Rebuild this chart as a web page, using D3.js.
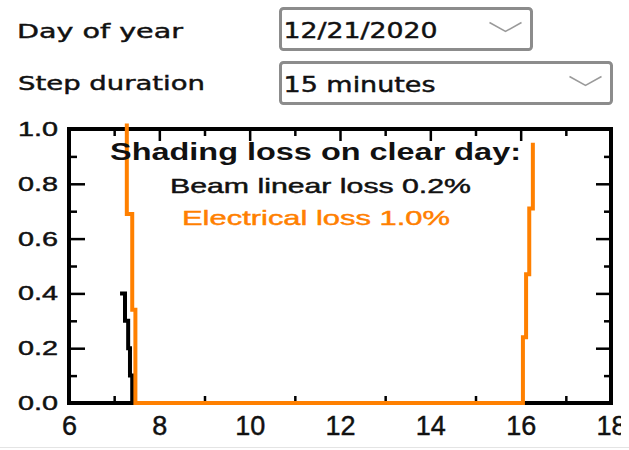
<!DOCTYPE html>
<html>
<head>
<meta charset="utf-8">
<script src="https://cdnjs.cloudflare.com/ajax/libs/d3/7.8.5/d3.min.js"></script>
<style>
  body { margin: 0; background: #fff; }
  svg { display: block; }
</style>
</head>
<body>
<svg id="chart" width="629" height="450"></svg>
<script>
// --- data ---
const beamHours = [7.13, 7.24, 7.31, 7.35, 7.40, 16.30];
const beamLoss  = [0.40, 0.30, 0.20, 0.10, 0.00, 0.00];

const elecHours = [7.28, 7.28, 7.40, 7.47, 16.05, 16.12, 16.19, 16.27];
const elecLoss  = [1.02, 0.69, 0.34, 0.00, 0.24, 0.47, 0.71, 0.95];

const xMajor = [6, 8, 10, 12, 14, 16, 18];
const xMinor = [7, 9, 11, 13, 15, 17];
const yMajor = [0, 0.2, 0.4, 0.6, 0.8, 1.0];
const yMinor = [0.1, 0.3, 0.5, 0.7, 0.9];

const dayOfYear = "12/21/2020";
const stepDuration = "15 minutes";
const titleText = "Shading loss on clear day:";
const beamText = "Beam linear loss 0.2%";
const elecText = "Electrical loss 1.0%";

const orange = "#ff8000";
const ink = "#111";
const svg = d3.select("#chart");

// heavier text, closer to the ClearType look of the screenshot
function heavy(sel, col) {
  sel.attr("stroke", col).attr("stroke-width", 0.45);
}

// --- controls on top ---
const uiFont = "'DejaVu Sans', Verdana, sans-serif";
svg.append("text").attr("x", 17).attr("y", 38)
  .attr("font-family", uiFont).attr("font-size", 20).attr("fill", ink)
  .attr("textLength", 166).attr("lengthAdjust", "spacingAndGlyphs")
  .text("Day of year").call(heavy, ink);
svg.append("text").attr("x", 18).attr("y", 90)
  .attr("font-family", uiFont).attr("font-size", 20).attr("fill", ink)
  .attr("textLength", 187).attr("lengthAdjust", "spacingAndGlyphs")
  .text("Step duration").call(heavy, ink);

const boxes = [
  {x: 280.5, y: 8.5, w: 251, h: 41, label: dayOfYear, tl: 154},
  {x: 280.5, y: 62.5, w: 331, h: 41, label: stepDuration, tl: 152}
];
boxes.forEach(b => {
  svg.append("rect").attr("x", b.x).attr("y", b.y).attr("width", b.w).attr("height", b.h)
    .attr("rx", 3).attr("fill", "#fff").attr("stroke", "#8c8c8c").attr("stroke-width", 3);
  svg.append("text").attr("x", b.x + 3).attr("y", b.y + 29)
    .attr("font-family", uiFont).attr("font-size", 21).attr("fill", ink)
    .attr("textLength", b.tl).attr("lengthAdjust", "spacingAndGlyphs")
    .text(b.label).call(heavy, ink);
  const cx = b.x + b.w - 26;
  svg.append("path")
    .attr("d", `M${cx - 16},${b.y + 14} L${cx},${b.y + 23} L${cx + 16},${b.y + 14}`)
    .attr("fill", "none").attr("stroke", "#9a9a9a").attr("stroke-width", 1.5);
});

// --- plot area ---
const pLeft = 69, pRight = 611, pTop = 129, pBottom = 403;
const x = d3.scaleLinear().domain([6, 18]).range([pLeft, pRight]);
const y = d3.scaleLinear().domain([0, 1]).range([pBottom, pTop]);
const chartFont = "'Liberation Sans', Arial, sans-serif";

function styleAxis(g) {
  g.select(".domain").remove();
  g.selectAll(".tick line").attr("stroke", "#000").attr("stroke-width", 2.5);
}

// x ticks bottom / top
svg.append("defs").append("clipPath").attr("id", "lblclip")
  .append("rect").attr("x", 0).attr("y", 0).attr("width", 621).attr("height", 450);

const xb = svg.append("g").attr("transform", `translate(0,${pBottom})`).attr("clip-path", "url(#lblclip)")
  .call(d3.axisBottom(x).tickValues(xMajor).tickSize(-12).tickPadding(13).tickFormat(d3.format("d")))
  .call(styleAxis);
xb.selectAll("text").attr("font-family", chartFont).attr("font-size", 27).attr("fill", ink).call(heavy, ink);
svg.append("g").attr("transform", `translate(0,${pBottom})`)
  .call(d3.axisBottom(x).tickValues(xMinor).tickSize(-7).tickFormat(""))
  .call(styleAxis);
svg.append("g").attr("transform", `translate(0,${pTop})`)
  .call(d3.axisTop(x).tickValues(xMajor).tickSize(-12).tickFormat(""))
  .call(styleAxis);
svg.append("g").attr("transform", `translate(0,${pTop})`)
  .call(d3.axisTop(x).tickValues(xMinor).tickSize(-7).tickFormat(""))
  .call(styleAxis);

// y ticks left / right
const yl = svg.append("g").attr("transform", `translate(${pLeft},0)`)
  .call(d3.axisLeft(y).tickValues(yMajor).tickSize(-16).tickPadding(11).tickFormat(d3.format(".1f")))
  .call(styleAxis);
yl.selectAll("text").attr("font-family", chartFont).attr("font-size", 20).attr("fill", ink)
  .attr("textLength", 40).attr("lengthAdjust", "spacingAndGlyphs").call(heavy, ink);
svg.append("g").attr("transform", `translate(${pLeft},0)`)
  .call(d3.axisLeft(y).tickValues(yMinor).tickSize(-8).tickFormat(""))
  .call(styleAxis);
svg.append("g").attr("transform", `translate(${pRight},0)`)
  .call(d3.axisRight(y).tickValues(yMajor).tickSize(-15).tickFormat(""))
  .call(styleAxis);
svg.append("g").attr("transform", `translate(${pRight},0)`)
  .call(d3.axisRight(y).tickValues(yMinor).tickSize(-7).tickFormat(""))
  .call(styleAxis);

// frame
svg.append("rect").attr("x", pLeft).attr("y", pTop)
  .attr("width", pRight - pLeft).attr("height", pBottom - pTop)
  .attr("fill", "none").attr("stroke", "#000").attr("stroke-width", 4);

// --- series ---
const line = d3.line().x(d => x(d[0])).y(d => y(d[1])).curve(d3.curveStepAfter);
svg.append("path")
  .datum(beamHours.map((h, i) => [h, beamLoss[i]]))
  .attr("d", line).attr("fill", "none").attr("stroke", "#000").attr("stroke-width", 4);
svg.append("path")
  .datum(elecHours.map((h, i) => [h, elecLoss[i]]))
  .attr("d", line).attr("fill", "none").attr("stroke", orange).attr("stroke-width", 4);

// --- annotation ---
svg.append("text").attr("x", 110).attr("y", 160)
  .attr("font-family", chartFont).attr("font-weight", "bold").attr("font-size", 23).attr("fill", ink)
  .attr("textLength", 411).attr("lengthAdjust", "spacingAndGlyphs")
  .text(titleText);
svg.append("text").attr("x", 170).attr("y", 193)
  .attr("font-family", chartFont).attr("font-size", 21).attr("fill", ink)
  .attr("textLength", 301).attr("lengthAdjust", "spacingAndGlyphs")
  .text(beamText).call(heavy, ink);
svg.append("text").attr("x", 182).attr("y", 225)
  .attr("font-family", chartFont).attr("font-size", 21).attr("fill", orange)
  .attr("textLength", 268).attr("lengthAdjust", "spacingAndGlyphs")
  .text(elecText).call(heavy, orange);

// bottom separator
svg.append("line").attr("x1", 0).attr("x2", 629).attr("y1", 447.5).attr("y2", 447.5)
  .attr("stroke", "#e4e4e4").attr("stroke-width", 1);
</script>
</body>
</html>
